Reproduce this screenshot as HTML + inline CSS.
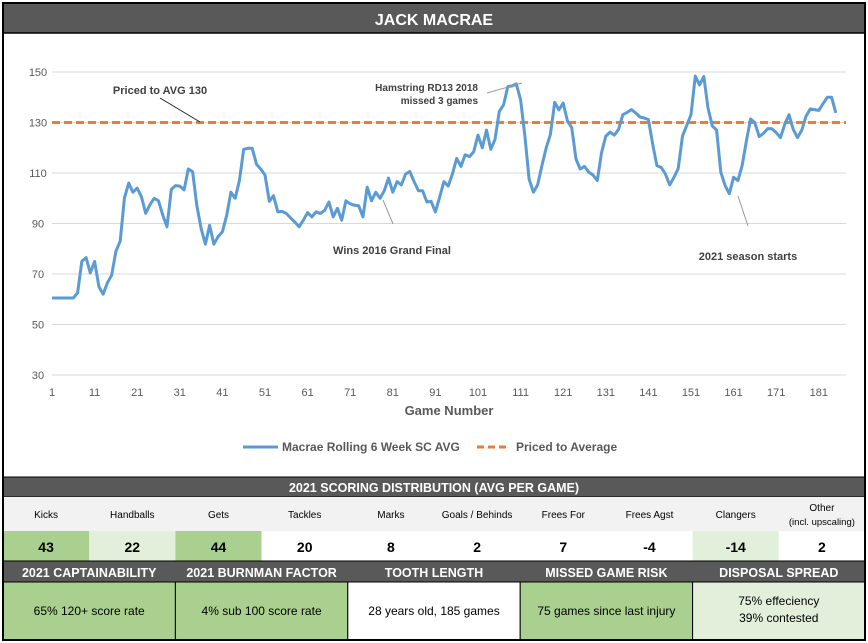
<!DOCTYPE html>
<html><head><meta charset="utf-8"><style>
body{margin:0;background:#fff;}
svg{display:block;font-family:"Liberation Sans Narrow","Liberation Sans",sans-serif;}
</style></head><body>
<svg id="c" width="868" height="643" viewBox="0 0 868 643">
<rect x="0" y="0" width="868" height="643" fill="#fff"/>
<rect x="3" y="3" width="862" height="30" fill="#595959"/>
<text x="434" y="25" text-anchor="middle" fill="#fff" font-size="16" font-weight="bold">JACK MACRAE</text>
<g id="grid"></g>
<g id="yt"></g>
<g id="xt"></g>
<line id="avg" stroke="#ed7d31" stroke-width="3" stroke-dasharray="8,4"/>
<path id="series" fill="none" stroke="#5b9bd5" stroke-width="3" stroke-linejoin="round"/>
<g fill="#404040" font-size="11" font-weight="bold">
<text x="160" y="94" text-anchor="middle">Priced to AVG 130</text>
<line x1="160" y1="98" x2="200" y2="122" stroke="#222" stroke-width="1"/>
<text x="478" y="91" text-anchor="end" font-size="10">Hamstring RD13 2018</text>
<text x="478" y="104" text-anchor="end" font-size="10">missed 3 games</text>
<line x1="487" y1="93" x2="522" y2="83" stroke="#999" stroke-width="1"/>
<text x="392" y="254" text-anchor="middle">Wins 2016 Grand Final</text>
<line x1="383" y1="200" x2="393" y2="224" stroke="#999" stroke-width="1"/>
<text x="748" y="260" text-anchor="middle">2021 season starts</text>
<line x1="738" y1="196" x2="748" y2="226" stroke="#999" stroke-width="1"/>
</g>
<text x="449" y="415" text-anchor="middle" fill="#595959" font-size="13" font-weight="bold">Game Number</text>
<g>
<line x1="243" y1="447" x2="278" y2="447" stroke="#5b9bd5" stroke-width="3"/>
<text x="282" y="451" fill="#595959" font-size="12" font-weight="bold">Macrae Rolling 6 Week SC AVG</text>
<line x1="477" y1="447" x2="510" y2="447" stroke="#ed7d31" stroke-width="3" stroke-dasharray="7,4"/>
<text x="516" y="451" fill="#595959" font-size="12" font-weight="bold">Priced to Average</text>
</g>
<g id="table"></g>
<rect x="3" y="3" width="862" height="637" fill="none" stroke="#000" stroke-width="2"/>
<line x1="3" y1="33" x2="865" y2="33" stroke="#000" stroke-width="1.5"/>
</svg>
<script>
const values=[60.5,60.5,60.5,60.5,60.5,60.5,62.5,75,76.5,70.4,75,65,62,66.5,69.5,79,83,100,106,102.4,104,100.5,94,97.5,100,99,93.3,88.7,103.5,105,104.8,103.3,111.6,110.5,97.2,88,81.8,89.3,81.8,84.8,86.7,93.3,102.4,100,107,119.4,119.8,119.8,113.5,111.6,109.2,98.8,101,94.6,94.8,94,92.2,90.6,88.7,91.3,94.3,92.6,94.6,94,95.2,98.5,92.6,96,91.3,99,97.8,97.2,97,92.6,104.4,99,102.4,100,103,108,102.4,106.6,105.3,109.6,110.6,106.6,103,103,98.5,98.8,94.6,100.5,106.6,104.8,109.6,115.8,112.6,117.2,116.5,118.4,125,120,127,119.4,123.3,134.4,137,144.2,144.5,145.3,139,124.6,107.6,102.4,105.3,112.9,120,125.3,138,135,137.7,130.5,128,115.5,111.6,112.6,110.3,109.2,107,118,124.6,126.2,125,127.3,133.1,134,135.1,133.8,132.2,131.8,131.2,121.4,112.9,112.2,109.6,105.3,108.3,111.8,124.6,128.8,133.1,148.4,144.9,148.2,135.8,128.6,127,110.3,105,101.8,108.3,107,112.9,122.7,131.4,129.9,124.4,125.7,127.6,127.5,126,124,129.2,133.1,127.3,124,127,132.5,135.4,135.1,134.8,137.5,140,140,133.8];
const pricedAvg=130;
const yTicks=[30,50,70,90,110,130,150];
const xTickLabels=[1,11,21,31,41,51,61,71,81,91,101,111,121,131,141,151,161,171,181];
const statLabels=["Kicks","Handballs","Gets","Tackles","Marks","Goals / Behinds","Frees For","Frees Agst","Clangers","Other"];
const statValues=[43,22,44,20,8,2,7,-4,-14,2];
const boxTitles=["2021 CAPTAINABILITY","2021 BURNMAN FACTOR","TOOTH LENGTH","MISSED GAME RISK","DISPOSAL SPREAD"];
const boxTexts=[["65% 120+ score rate"],["4% sub 100 score rate"],["28 years old, 185 games"],["75 games since last injury"],["75% effeciency","39% contested"]];

const NS="http://www.w3.org/2000/svg";
const X0=52,X1=846;
const xs=g=>X0+(g-1)*4.26;
const ys=v=>72+(150-v)*(303/120);
function mk(t,a,p){const e=document.createElementNS(NS,t);for(const k in a)e.setAttribute(k,a[k]);p.appendChild(e);return e;}
const grid=document.getElementById('grid'),yt=document.getElementById('yt'),xt=document.getElementById('xt');
yTicks.forEach(v=>{
 const l=mk('line',{x1:X0,x2:X1,y1:ys(v),y2:ys(v),stroke:'#d9d9d9','stroke-width':1},grid);
 
 
 const t=mk('text',{x:38,y:ys(v)+4,'text-anchor':'middle','font-size':11,fill:'#595959'},yt);
 t.textContent=v;
 
 
});
xTickLabels.forEach(g=>{
 const t=mk('text',{x:xs(g),y:396,'text-anchor':'middle','font-size':11,fill:'#595959'},xt);
 t.textContent=g;
 
 
});
const avg=document.getElementById('avg');
avg.setAttribute('x1',X0);avg.setAttribute('x2',X1);avg.setAttribute('y1',ys(pricedAvg));avg.setAttribute('y2',ys(pricedAvg));
document.getElementById('series').setAttribute('d',values.map((v,i)=>(i?'L':'M')+xs(i+1).toFixed(1)+','+ys(v).toFixed(1)).join(''));

const tb=document.getElementById('table');
const W=862/10;
mk('rect',{x:3,y:477,width:862,height:20,fill:'#595959',stroke:'#000','stroke-width':1},tb);
let h=mk('text',{x:434,y:492,'text-anchor':'middle',fill:'#fff','font-size':12.5,'font-weight':'bold'},tb);h.textContent="2021 SCORING DISTRIBUTION (AVG PER GAME)";


mk('rect',{x:3,y:497,width:862,height:34,fill:'#f2f2f2'},tb);
const fills=['#a9d08e','#e2efda','#a9d08e','#fff','#fff','#fff','#fff','#fff','#e2efda','#fff'];
statLabels.forEach((s,i)=>{
 const cx=3+W*i+W/2;
 if(i==9){
  const a=mk('text',{x:cx,y:511,'text-anchor':'middle','font-size':10,fill:'#000'},tb);a.textContent="Other";
  
  
  const b=mk('text',{x:cx,y:525,'text-anchor':'middle','font-size':9.5,fill:'#000'},tb);b.textContent="(incl. upscaling)";
  
  
 }else{
  const a=mk('text',{x:cx,y:518,'text-anchor':'middle','font-size':10,fill:'#000'},tb);a.textContent=s;
  
  
 }
 mk('rect',{x:3+W*i,y:531,width:W,height:30,fill:fills[i]},tb);
 const v=mk('text',{x:cx,y:552,'text-anchor':'middle','font-size':14,'font-weight':'bold',fill:'#000'},tb);v.textContent=statValues[i];
 
 
});
mk('rect',{x:3,y:561,width:862,height:21,fill:'#595959',stroke:'#000','stroke-width':1},tb);
const bf=['#a9d08e','#a9d08e','#fff','#a9d08e','#e2efda'];
const BW=862/5;
boxTitles.forEach((s,i)=>{
 const cx=3+BW*i+BW/2;
 const t=mk('text',{x:cx,y:577,'text-anchor':'middle',fill:'#fff','font-size':12.5,'font-weight':'bold'},tb);t.textContent=s;
 
 
 mk('rect',{x:3+BW*i,y:582,width:BW,height:58,fill:bf[i],stroke:'#000','stroke-width':1},tb);
 const lines=boxTexts[i];
 lines.forEach((l,j)=>{
  const y=lines.length==1?615:605+j*17;
  const e=mk('text',{x:cx,y:y,'text-anchor':'middle','font-size':12,fill:'#000'},tb);e.textContent=l;
  
  
 });
});
</script>
</body></html>
